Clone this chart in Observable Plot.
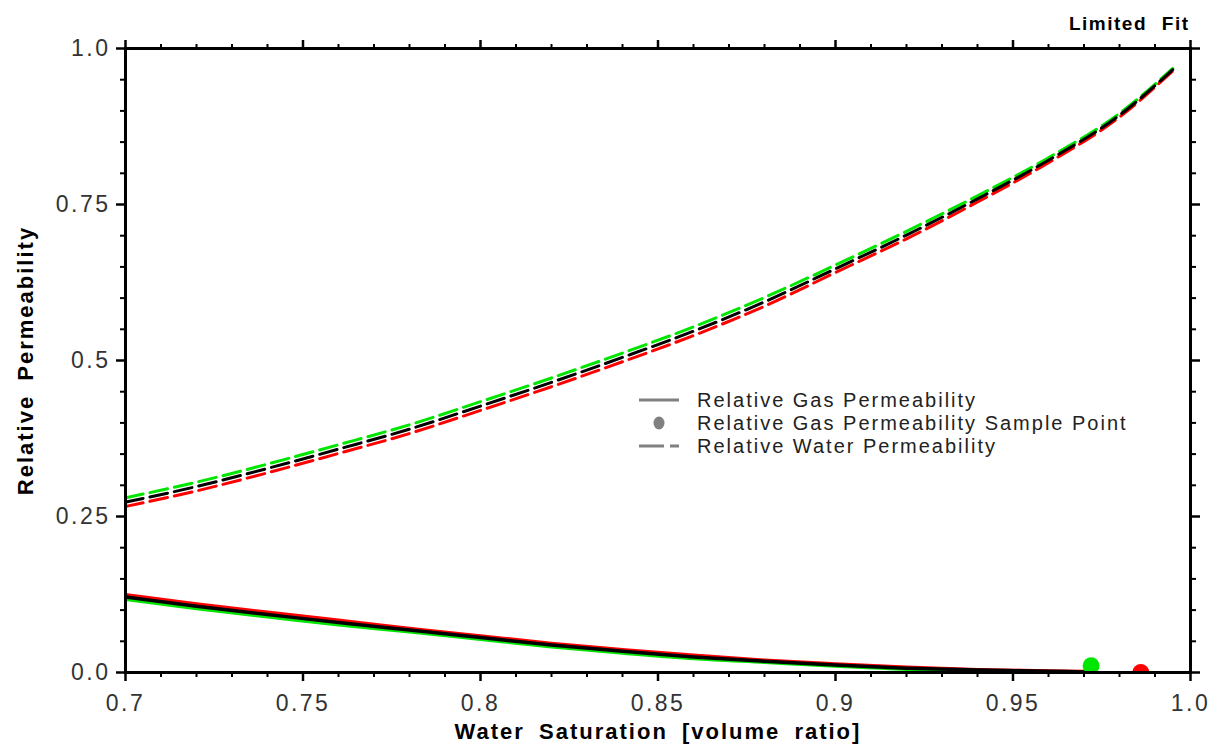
<!DOCTYPE html>
<html><head><meta charset="utf-8">
<script src="https://cdn.jsdelivr.net/npm/d3@7"></script>
<script src="https://cdn.jsdelivr.net/npm/@observablehq/plot@0.6"></script>
<style>
html,body{margin:0;padding:0;background:#fff;}
#wrap{position:relative;width:1217px;height:751px;overflow:hidden;}
#legend{position:absolute;left:0;top:0;pointer-events:none;}
g[aria-label$="tick label"]{fill:#333;}
</style></head><body><div id="wrap"></div>
<script>
// ---- axis ticks ----
const xTicks = [0.7, 0.75, 0.8, 0.85, 0.9, 0.95, 1.0];
const xTickLabels = ["0.7", "0.75", "0.8", "0.85", "0.9", "0.95", "1.0"];
const xMinorTicks = [0.71,0.72,0.73,0.74,0.76,0.77,0.78,0.79,0.81,0.82,0.83,0.84,0.86,0.87,0.88,0.89,0.91,0.92,0.93,0.94,0.96,0.97,0.98,0.99];
const yTicks = [0, 0.25, 0.5, 0.75, 1.0];
const yTickLabels = ["0.0", "0.25", "0.5", "0.75", "1.0"];
const yMinorTicks = [0.05,0.1,0.15,0.2,0.3,0.35,0.4,0.45,0.55,0.6,0.65,0.7,0.8,0.85,0.9,0.95];

// ---- relative water permeability (dashed) ----
const waterSw    = [0.70, 0.72, 0.74, 0.76, 0.78, 0.80, 0.82, 0.84, 0.86, 0.88, 0.90, 0.92, 0.94, 0.96, 0.98, 0.995];
const waterGreen = [0.280,0.305,0.334,0.365,0.397,0.434,0.472,0.512,0.554,0.601,0.653,0.707,0.764,0.825,0.896,0.968];
const waterRed   = [0.266,0.291,0.320,0.351,0.383,0.420,0.458,0.498,0.540,0.587,0.641,0.695,0.754,0.817,0.890,0.964];
const waterBlack = [0.273,0.298,0.327,0.358,0.390,0.427,0.465,0.505,0.547,0.594,0.647,0.701,0.759,0.821,0.893,0.966];

// ---- relative gas permeability (solid) ----
const gasSw    = [0.70, 0.72, 0.74, 0.76, 0.78, 0.80, 0.82, 0.84, 0.86, 0.88, 0.90, 0.92, 0.94, 0.96, 0.97];
const gasRed   = [0.125,0.110,0.097,0.084,0.071,0.059,0.047,0.037,0.028,0.020,0.014,0.009,0.005,0.003,0.002];
const gasGreen = [0.117,0.102,0.089,0.076,0.065,0.053,0.041,0.031,0.022,0.016,0.010,0.005,0.003,0.001,0.000];
const gasBlack = [0.121,0.106,0.093,0.080,0.068,0.056,0.044,0.034,0.025,0.018,0.012,0.007,0.004,0.002,0.001];

// ---- gas permeability sample points ----
const sampleSw     = [0.972, 0.986];
const sampleKrg    = [0.011, 0.0];
const sampleSeries = ["fit G", "fit R"];

const seriesNames  = ["fit G", "fit R", "fit K"];
const seriesColors = ["#00e600", "#ff0000", "#000000"];

const legendLabels = ["Relative Gas Permeability", "Relative Gas Permeability Sample Point", "Relative Water Permeability"];
const chartNote = "Limited Fit";
const xTitle = "Water Saturation [volume ratio]";
const yTitle = "Relative Permeability";

const rows = (xs, ys, series) => xs.map((x, i) => ({sw: x, kr: ys[i], series}));
const water = {g: rows(waterSw, waterGreen, "fit G"), r: rows(waterSw, waterRed, "fit R"), k: rows(waterSw, waterBlack, "fit K")};
const gas = {g: rows(gasSw, gasGreen, "fit G"), r: rows(gasSw, gasRed, "fit R"), k: rows(gasSw, gasBlack, "fit K")};
const samples = sampleSw.map((x, i) => ({sw: x, kr: sampleKrg[i], series: sampleSeries[i]}));

const xLab = d => xTickLabels[xTicks.indexOf(d)];
const yLab = d => yTickLabels[yTicks.indexOf(d)];
const blank = () => "";
const dash = "18,7";

const chart = Plot.plot({
  width: 1217, height: 751,
  marginTop: 48, marginRight: 27, marginBottom: 79, marginLeft: 125,
  style: {fontFamily: "'Liberation Sans', Arial, sans-serif", fontSize: "23px", background: "white", overflow: "visible"},
  x: {domain: [0.7, 1.0]},
  y: {domain: [0, 1]},
  color: {domain: seriesNames, range: seriesColors},
  marks: [
    Plot.line(water.g, {x: "sw", y: "kr", stroke: "series", strokeWidth: 3, strokeDasharray: dash, curve: "monotone-x"}),
    Plot.line(water.r, {x: "sw", y: "kr", stroke: "series", strokeWidth: 3, strokeDasharray: dash, curve: "monotone-x"}),
    Plot.line(water.k, {x: "sw", y: "kr", stroke: "series", strokeWidth: 3, strokeDasharray: dash, curve: "monotone-x"}),
    Plot.line(gas.g, {x: "sw", y: "kr", stroke: "series", strokeWidth: 3, curve: "monotone-x", clip: true}),
    Plot.line(gas.r, {x: "sw", y: "kr", stroke: "series", strokeWidth: 3, curve: "monotone-x", clip: true}),
    Plot.line(gas.k, {x: "sw", y: "kr", stroke: "series", strokeWidth: 3.5, curve: "monotone-x", clip: true}),
    Plot.dot(samples, {x: "sw", y: "kr", fill: "series", r: 8.5, clip: true}),
    Plot.frame({stroke: "black", strokeWidth: 3}),
    Plot.axisX(xTicks, {anchor: "bottom", tickSize: 9, tickPadding: 13, tickFormat: xLab, strokeWidth: 2.5, label: null}),
    Plot.axisX(xMinorTicks, {anchor: "bottom", tickSize: 5, tickFormat: blank, strokeWidth: 2, label: null}),
    Plot.axisX(xTicks, {anchor: "top", tickSize: 9, tickFormat: blank, strokeWidth: 2.5, label: null}),
    Plot.axisX(xMinorTicks, {anchor: "top", tickSize: 5, tickFormat: blank, strokeWidth: 2, label: null}),
    Plot.axisY(yTicks, {anchor: "left", tickSize: 9, tickPadding: 6, tickFormat: yLab, strokeWidth: 2.5, label: null}),
    Plot.axisY(yMinorTicks, {anchor: "left", tickSize: 5, tickFormat: blank, strokeWidth: 2, label: null}),
    Plot.axisY(yTicks, {anchor: "right", tickSize: 9, tickFormat: blank, strokeWidth: 2.5, label: null}),
    Plot.axisY(yMinorTicks, {anchor: "right", tickSize: 5, tickFormat: blank, strokeWidth: 2, label: null}),
    Plot.text([xTitle], {text: d => d, frameAnchor: "bottom", dy: 59, textAnchor: "middle", lineAnchor: "middle", fontSize: 22, fontWeight: "bold", fill: "black"}),
    Plot.text([yTitle], {text: d => d, frameAnchor: "left", dx: -100, rotate: -90, textAnchor: "middle", lineAnchor: "middle", fontSize: 22, fontWeight: "bold", fill: "black"}),
    Plot.text([chartNote], {text: d => d, frameAnchor: "top-right", dx: -1, dy: -25, textAnchor: "end", lineAnchor: "middle", fontSize: 19, fontWeight: "bold", fill: "black"})
  ]
});

const svg = d3.select(chart);
svg.selectAll("text").each(function() {
  const t = d3.select(this);
  const s = t.text();
  if (s === xTitle || s === yTitle) t.style("letter-spacing", "2px").style("word-spacing", "6px");
  else if (s === chartNote) t.style("letter-spacing", "1.5px").style("word-spacing", "8px");
  else t.style("letter-spacing", "2.5px");
});

const wrap = document.getElementById("wrap");
wrap.appendChild(chart);

// legend overlay
const leg = d3.create("svg").attr("id", "legend").attr("width", 1217).attr("height", 751)
  .style("font-family", "'Liberation Sans', Arial, sans-serif");
const lx0 = 639, lx1 = 679, tx = 697, rowsY = [400, 423, 446];
leg.append("line").attr("x1", lx0).attr("x2", lx1).attr("y1", rowsY[0]).attr("y2", rowsY[0]).attr("stroke", "#808080").attr("stroke-width", 3);
leg.append("ellipse").attr("cx", 659).attr("cy", rowsY[1]).attr("rx", 5.5).attr("ry", 6.5).attr("fill", "#808080");
leg.append("line").attr("x1", lx0).attr("x2", lx1).attr("y1", rowsY[2]).attr("y2", rowsY[2]).attr("stroke", "#808080").attr("stroke-width", 3).attr("stroke-dasharray", "25,6");
legendLabels.forEach((s, i) => {
  leg.append("text").attr("x", tx).attr("y", rowsY[i]).attr("dy", "0.35em").attr("font-size", 20)
    .attr("fill", "#222").style("letter-spacing", "2px").text(s);
});
wrap.appendChild(leg.node());
</script></body></html>
